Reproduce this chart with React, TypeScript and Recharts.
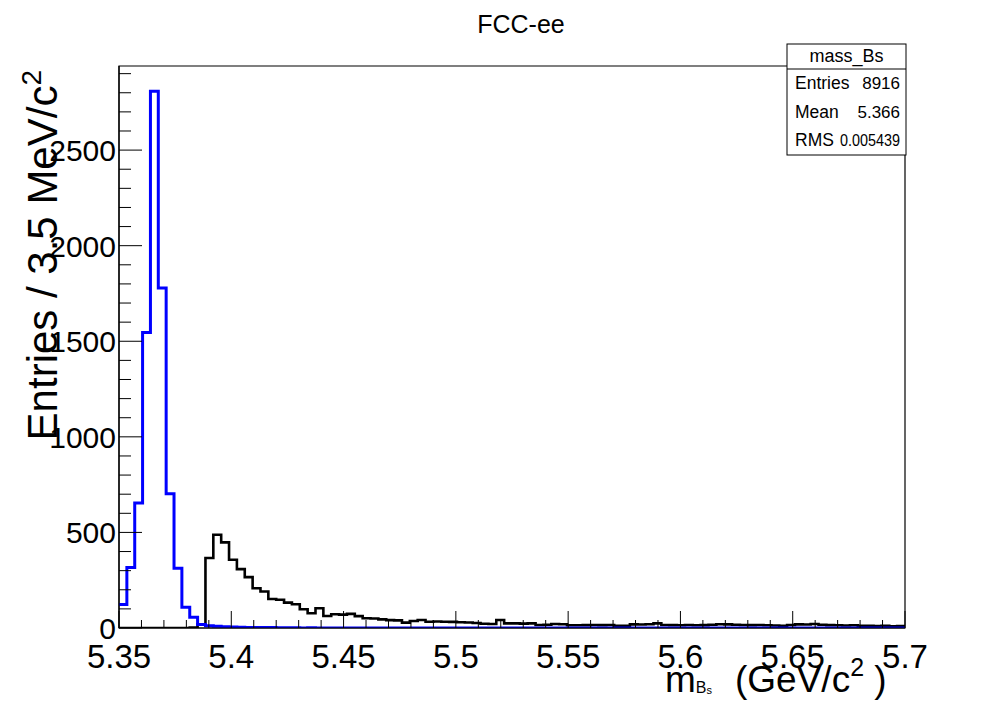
import React from 'react';
import { ComposedChart, Line, XAxis, YAxis, ReferenceArea } from 'recharts';

const FONT = '"Liberation Sans", Arial, Helvetica, sans-serif';

const X_MIN = 5.35;
const X_MAX = 5.7;
const BIN_WIDTH = 0.0035;
const Y_MAX = 2940;

// blue histogram: mass_Bs (100 bins of 3.5 MeV)
const blueCounts = [
  123, 316, 654, 1546, 2808, 1778, 702, 312, 109, 56,
  18, 12, 9, 7, 5, 4, 3, 2, 2, 2,
  1, 1, 1, 0, 1, 0, 0, 0, 0, 0,
  0, 0, 0, 0, 0, 0, 0, 0, 0, 0,
  0, 0, 0, 0, 0, 0, 0, 0, 0, 0,
  0, 0, 0, 0, 0, 0, 0, 0, 0, 0,
  0, 0, 0, 0, 0, 0, 0, 0, 0, 0,
  0, 0, 0, 0, 0, 0, 0, 0, 0, 0,
  0, 0, 0, 0, 0, 0, 0, 0, 0, 0,
  0, 0, 0, 0, 0, 0, 0, 0, 0, 0,
];

// black histogram
const blackCounts = [
  0, 0, 0, 0, 0, 0, 0, 0, 0, 3,
  20, 366, 488, 448, 357, 308, 266, 208, 191, 152,
  148, 133, 124, 98, 77, 103, 63, 72, 70, 74,
  62, 51, 50, 45, 41, 40, 28, 37, 42, 33,
  34, 33, 32, 30, 29, 26, 22, 21, 42, 24,
  24, 23, 24, 16, 17, 21, 20, 14, 14, 15,
  16, 15, 16, 12, 11, 19, 18, 20, 24, 16,
  15, 14, 16, 14, 15, 17, 20, 19, 17, 16,
  15, 16, 14, 13, 12, 16, 19, 18, 21, 17,
  15, 14, 13, 14, 12, 11, 10, 11, 9, 10,
];

const xMajorTicks = [5.35, 5.4, 5.45, 5.5, 5.55, 5.6, 5.65, 5.7];
const xMajorLabels = ['5.35', '5.4', '5.45', '5.5', '5.55', '5.6', '5.65', '5.7'];
const X_MINOR_STEP = 0.01;
const yMajorTicks = [0, 500, 1000, 1500, 2000, 2500];
const yMajorLabels = ['0', '500', '1000', '1500', '2000', '2500'];
const Y_MINOR_STEP = 100;
const Y_MINOR_MAX = 2900;

const statsTitle = 'mass_Bs';
const statsLabels = ['Entries', 'Mean', 'RMS'];
const statsValues = ['8916', '5.366', '0.005439'];

const xTicks: number[] = [];
for (let i = 0; X_MIN + i * X_MINOR_STEP <= X_MAX + 1e-9; i++) {
  xTicks.push(+(X_MIN + i * X_MINOR_STEP).toFixed(4));
}
const yTicks: number[] = [];
for (let v = 0; v <= Y_MINOR_MAX; v += Y_MINOR_STEP) yTicks.push(v);

const data = Array.from({ length: blueCounts.length + 1 }, (_, i) => {
  const k = Math.min(i, blueCounts.length - 1);
  return {
    x: +(X_MIN + i * BIN_WIDTH).toFixed(5),
    blue: blueCounts[k],
    black: blackCounts[k],
  };
});

const majorIndex = (arr: number[], v: number) =>
  arr.findIndex((t) => Math.abs(t - v) < 1e-6);

const renderXTick = (props: any) => {
  const { x, y, payload } = props;
  const idx = majorIndex(xMajorTicks, payload.value);
  const major = idx >= 0;
  return (
    <g key={`xt-${payload.value}`}>
      <line x1={x} x2={x} y1={y} y2={y - (major ? 17 : 8)} stroke="#000" strokeWidth={1} />
      {major && (
        <text x={x} y={y + 40} textAnchor="middle" fontSize={33} fontFamily={FONT} fill="#000">
          {xMajorLabels[idx]}
        </text>
      )}
    </g>
  );
};

const renderYTick = (props: any) => {
  const { x, y, payload } = props;
  const idx = majorIndex(yMajorTicks, payload.value);
  const major = idx >= 0;
  return (
    <g key={`yt-${payload.value}`}>
      <line x1={x} x2={x + (major ? 23 : 12)} y1={y} y2={y} stroke="#000" strokeWidth={1} />
      {major && (
        <text x={x - 3} y={y + 11} textAnchor="end" fontSize={30} fontFamily={FONT} fill="#000">
          {yMajorLabels[idx]}
        </text>
      )}
    </g>
  );
};

export default function App() {
  return (
    <div style={{ position: 'absolute', left: 0, top: 0, width: 986, height: 701, background: '#fff', overflow: 'hidden' }}>
      <ComposedChart
        width={986}
        height={701}
        data={data}
        margin={{ top: 66, right: 81, bottom: 0, left: 0 }}
      >
        <XAxis
          type="number"
          dataKey="x"
          domain={[X_MIN, X_MAX]}
          ticks={xTicks}
          interval={0}
          tick={renderXTick}
          tickLine={false}
          tickSize={0}
          tickMargin={0}
          height={73}
          axisLine={{ stroke: '#000', strokeWidth: 1.2 }}
          allowDataOverflow
        />
        <YAxis
          type="number"
          domain={[0, Y_MAX]}
          ticks={yTicks}
          interval={0}
          tick={renderYTick}
          tickLine={false}
          tickSize={0}
          tickMargin={0}
          width={119}
          axisLine={{ stroke: '#000', strokeWidth: 1.2 }}
          allowDataOverflow
        />
        <ReferenceArea
          x1={X_MIN}
          x2={X_MAX}
          y1={0}
          y2={Y_MAX}
          fill="none"
          fillOpacity={0}
          stroke="#000"
          strokeWidth={1.2}
          ifOverflow="visible"
        />
        <Line
          type="stepAfter"
          dataKey="black"
          stroke="#000"
          strokeWidth={2.6}
          dot={false}
          activeDot={false}
          isAnimationActive={false}
        />
        <Line
          type="stepAfter"
          dataKey="blue"
          stroke="#0000ff"
          strokeWidth={3}
          dot={false}
          activeDot={false}
          isAnimationActive={false}
        />
      </ComposedChart>
      <svg
        width={986}
        height={701}
        style={{ position: 'absolute', left: 0, top: 0, pointerEvents: 'none' }}
        fontFamily={FONT}
      >
        <text x={521} y={33} textAnchor="middle" fontSize={25} fill="#000">FCC-ee</text>
        <text transform="translate(57, 70) rotate(-90)" textAnchor="end" fontSize={42} fill="#000">
          Entries / 3.5 MeV/c<tspan dy={-16} fontSize={28}>2</tspan>
        </text>
        <text x={665} y={692} fontSize={37} fill="#000">
          m<tspan dy={1} fontSize={16}>B</tspan><tspan dy={1} fontSize={11}>s</tspan>
          <tspan x={735} dy={-2}>(GeV/c</tspan><tspan dy={-16} fontSize={25}>2</tspan><tspan dy={16}> )</tspan>
        </text>
        <rect x={787} y={44} width={119} height={111} fill="#fff" stroke="#000" strokeWidth={1} />
        <line x1={787} x2={906} y1={69} y2={69} stroke="#000" strokeWidth={1} />
        <text x={846.5} y={62} textAnchor="middle" fontSize={18} fill="#000">{statsTitle}</text>
        {statsLabels.map((l, i) => (
          <g key={l}>
            <text x={795} y={89 + i * 28.5} fontSize={17.5} fill="#000">{l}</text>
            <text
              x={900}
              y={89 + i * 28.5}
              textAnchor="end"
              fontSize={17}
              fill="#000"
              {...(statsValues[i].length > 6 ? { textLength: 60, lengthAdjust: 'spacingAndGlyphs' } : {})}
            >
              {statsValues[i]}
            </text>
          </g>
        ))}
      </svg>
    </div>
  );
}
